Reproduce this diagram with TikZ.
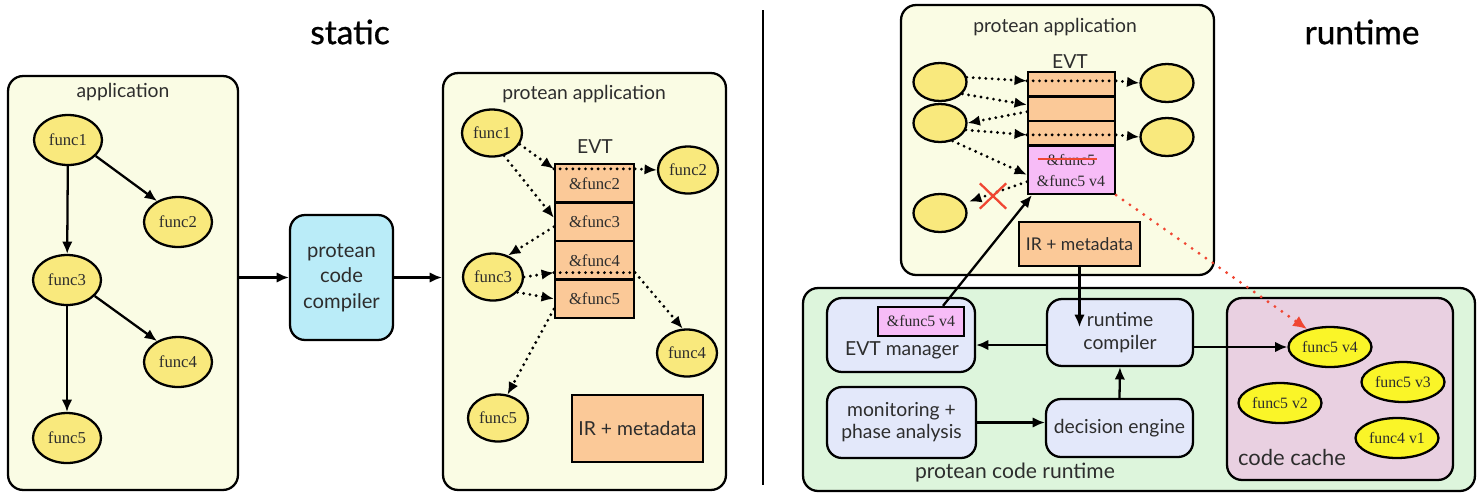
\documentclass[tikz,border=0pt]{standalone}
\usepackage{fontspec}
\setmainfont{Liberation Serif}
\newfontfamily\gs{Lato}
\newfontfamily\gst[FakeBold=0.9]{Lato}
\usetikzlibrary{arrows.meta,calc,shapes.geometric,shapes.misc}
\definecolor{appbg}{RGB}{250,252,228}
\definecolor{fnyel}{RGB}{249,233,125}
\definecolor{brightyel}{RGB}{250,245,40}
\definecolor{peach}{RGB}{251,201,152}
\definecolor{pinkrow}{RGB}{247,188,247}
\definecolor{cyanbg}{RGB}{186,236,248}
\definecolor{greenbg}{RGB}{221,245,220}
\definecolor{lavbg}{RGB}{227,232,250}
\definecolor{mauvebg}{RGB}{233,208,225}
\definecolor{xred}{RGB}{240,70,50}
\definecolor{txt}{RGB}{45,45,45}
\begin{document}
\begin{tikzpicture}[x=0.02cm,y=-0.02cm,
  box/.style={draw=black, line width=1.3pt, rounded corners=0.3cm, inner sep=0pt},
  sq/.style={draw=black, line width=1.3pt, inner sep=0pt},
  fn/.style={ellipse, draw=black, line width=1.3pt, fill=fnyel, inner sep=0pt, text=txt, font=\fontsize{9.5}{10}\selectfont},
  lab/.style={inner sep=0pt, text=txt, font=\gs\fontsize{11}{13}\selectfont},
  bigtitle/.style={inner sep=0pt, text=black, font=\gst\fontsize{19}{22}\selectfont},
  sertxt/.style={inner sep=0pt, text=txt, font=\fontsize{9}{10}\selectfont},
  arr/.style={line width=1.3pt, -{Latex[length=7pt,width=6pt]}},
  dot/.style={line width=1.8pt, line cap=round, dash pattern=on 0pt off 3.6pt, -{Latex[length=7pt,width=6pt]}},
  dotline/.style={line width=1.8pt, line cap=round, dash pattern=on 0pt off 3.6pt},
  reddot/.style={xred, line width=1.8pt, line cap=round, dash pattern=on 0pt off 4.8pt, -{Latex[length=8pt,width=7pt]}}
]
\useasboundingbox (0,0) rectangle (1482,495);

% titles and divider
\node[bigtitle] (tst) at (350,32) {static};
\node[bigtitle] (trt) at (1362,32) {runtime};
\coordinate (dv1) at (763,10);
\coordinate (dv2) at (763,485);
\draw[line width=1.4pt] (dv1) -- (dv2);

% ---------- static: application ----------
\node[box, fill=appbg, minimum width=4.6cm, minimum height=8.28cm] (app) at (123,283) {};
\node[lab] (appl) at (123,92) {application};
\node[fn, minimum width=1.36cm, minimum height=1cm] (sf1) at (68,140) {func1};
\node[fn, minimum width=1.36cm, minimum height=1cm] (sf2) at (178,222) {func2};
\node[fn, minimum width=1.36cm, minimum height=1cm] (sf3) at (67,280) {func3};
\node[fn, minimum width=1.36cm, minimum height=1cm] (sf4) at (178,362) {func4};
\node[fn, minimum width=1.36cm, minimum height=1cm] (sf5) at (67,438) {func5};
\draw[arr] (sf1) -- (sf3);
\draw[arr] (sf1.-30) -- (sf2.135);
\draw[arr] (sf3.-30) -- (sf4.135);
\draw[arr] (sf3) -- (sf5);

% compiler
\node[box, fill=cyanbg, minimum width=2.06cm, minimum height=2.5cm, align=center, text=txt,
      font=\gs\fontsize{11.5}{14.5}\selectfont] (comp) at (341.5,277.5) {protean\\code\\compiler};
\node[box, fill=appbg, minimum width=5.66cm, minimum height=8.34cm] (pa1) at (584.5,281.5) {};
\draw[arr] (app.east |- comp.west) -- (comp.west);
\draw[arr] (comp.east) -- (pa1.west |- comp.east);

% ---------- static: protean application ----------
\node[lab] (pa1l) at (584,94) {protean application};
\node[lab] (evt1) at (595,147) {EVT};
\node[fn, minimum width=1.2cm, minimum height=0.94cm] (lf1) at (492,133) {func1};
\node[fn, minimum width=1.2cm, minimum height=0.94cm] (lf2) at (688,170) {func2};
\node[fn, minimum width=1.2cm, minimum height=0.94cm] (lf3) at (493,277) {func3};
\node[fn, minimum width=1.2cm, minimum height=0.94cm] (lf4) at (687,353) {func4};
\node[fn, minimum width=1.2cm, minimum height=0.94cm] (lf5) at (498,418) {func5};
\node[sq, fill=peach, minimum width=1.58cm, minimum height=0.77cm, text=txt, font=\fontsize{9.5}{10}\selectfont] (r1) at (594.5,183.25) {\raisebox{-2pt}{\&func2}};
\node[sq, fill=peach, minimum width=1.58cm, minimum height=0.77cm, text=txt, font=\fontsize{9.5}{10}\selectfont] (r2) at (594.5,221.75) {\&func3};
\node[sq, fill=peach, minimum width=1.58cm, minimum height=0.77cm, text=txt, font=\fontsize{9.5}{10}\selectfont] (r3) at (594.5,260.25) {\&func4};
\node[sq, fill=peach, minimum width=1.58cm, minimum height=0.77cm, text=txt, font=\fontsize{9.5}{10}\selectfont] (r4) at (594.5,298.75) {\&func5};
\node[sq, fill=peach, minimum width=2.62cm, minimum height=1.34cm, text=txt, font=\gs\fontsize{11}{13}\selectfont] (ir1) at (637.5,428.5) {IR + metadata};

\coordinate (la1) at ($(r1.north west)+(0,6)$);
\coordinate (lb1) at ($(r1.north east)+(0,6)$);
\coordinate (la3) at ($(r3.south west)+(0,-8)$);
\coordinate (lb3) at ($(r3.south east)+(0,-8)$);
\draw[dot] (lf1.-22) -- (la1);
\draw[dotline] (la1) -- (lb1);
\draw[dot] (lb1) -- (lf2.west);
\draw[dot] (lf1.-62) -- ($(r2.west)+(0,-4)$);
\draw[dot] ($(r2.west)+(0,5)$) -- (lf3.55);
\draw[dot] (lf3.east) -- (la3);
\draw[dotline] (la3) -- (lb3);
\draw[dot] (lb3) -- (lf4.100);
\draw[dot] (lf3.-32) -- (r4.west);
\draw[dot] ($(r4.south west)+(0,-10)$) -- (lf5.68);

% ---------- runtime: protean application ----------
\node[box, fill=appbg, minimum width=6.26cm, minimum height=5.4cm] (pa2) at (1057.5,140) {};
\node[lab] (pa2l) at (1055,27) {protean application};
\node[lab] (evt2) at (1070,62) {EVT};
\node[sq, fill=peach, minimum width=1.74cm, minimum height=0.49cm] (R1) at (1071.5,84.25) {};
\node[sq, fill=peach, minimum width=1.74cm, minimum height=0.49cm] (R2) at (1071.5,108.75) {};
\node[sq, fill=peach, minimum width=1.74cm, minimum height=0.49cm] (R3) at (1071.5,133.25) {};
\node[sq, fill=pinkrow, minimum width=1.74cm, minimum height=0.97cm] (R4) at (1071.5,169.75) {};
\node[sertxt] (s5old) at (1071,160) {\&func5};
\node[sertxt] (s5new) at (1071,181) {\&func5 v4};
\draw[xred, line width=1.2pt] ($(s5old.west)+(-9,-1)$) -- ($(s5old.east)+(1,-1)$);

\node[fn, minimum width=1.06cm, minimum height=0.76cm] (E1) at (940,82) {};
\node[fn, minimum width=1.06cm, minimum height=0.76cm] (E2) at (940,123) {};
\node[fn, minimum width=1.06cm, minimum height=0.76cm] (E3) at (940,213) {};
\node[fn, minimum width=1.06cm, minimum height=0.76cm] (E4) at (1167,83) {};
\node[fn, minimum width=1.06cm, minimum height=0.76cm] (E5) at (1167,137) {};
\node[sq, fill=peach, minimum width=2.42cm, minimum height=0.88cm, text=txt, font=\gs\fontsize{10}{12}\selectfont] (ir2) at (1079.5,244) {IR + metadata};

\coordinate (ra1) at ($(R1.north west)+(0,10)$);
\coordinate (rb1) at ($(R1.north east)+(0,10)$);
\coordinate (ra3) at ($(R3.north west)+(0,15)$);
\coordinate (rb3) at ($(R3.north east)+(0,15)$);
\draw[dot] (E1.10) -- (ra1);
\draw[dotline] (ra1) -- (rb1);
\draw[dot] (rb1) -- (E4.west);
\draw[dot] (E1.-28) -- ($(R2.west)+(0,-4)$);
\draw[dot] ($(R2.west)+(0,3)$) -- (E2.east);
\draw[dot] (E2.-15) -- (ra3);
\draw[dotline] (ra3) -- (rb3);
\draw[dot] (rb3) -- (E5.west);
\draw[dot] (E2.-55) -- ($(R4.west)+(0,5)$);
\draw[dot, shorten >=3pt] ($(R4.west)+(0,12)$) -- (E3.22);
\node[cross out, draw=xred, line width=1.3pt, minimum width=0.48cm, minimum height=0.46cm, inner sep=0pt] (rx) at (993,196) {};

% ---------- runtime: protean code runtime ----------
\node[box, fill=greenbg, minimum width=13.44cm, minimum height=4.06cm] (grn) at (1139,389.5) {};
\node[lab, font=\gs\fontsize{12}{14}\selectfont] (grnl) at (1015,473) {protean code runtime};
\node[box, fill=lavbg, minimum width=2.96cm, minimum height=1.48cm] (em) at (901,335) {};
\node[lab] (emt) at (902,350) {EVT manager};
\node[sq, fill=pinkrow, minimum width=1.72cm, minimum height=0.58cm, text=txt, font=\fontsize{9}{10}\selectfont] (pk) at (921,321.5) {\&func5 v4};
\node[box, fill=lavbg, minimum width=2.92cm, minimum height=1.34cm, align=center, text=txt, font=\gs\fontsize{11}{13.5}\selectfont] (rc) at (1120,332.5) {runtime\\compiler};
\node[box, fill=lavbg, minimum width=2.98cm, minimum height=1.42cm, align=center, text=txt, font=\gs\fontsize{11}{12.5}\selectfont] (mon) at (901.5,422.5) {monitoring +\\phase analysis};
\node[box, fill=lavbg, minimum width=2.94cm, minimum height=1.16cm, text=txt, font=\gs\fontsize{11}{13}\selectfont] (dec) at (1119.5,428) {decision engine};
\node[box, fill=mauvebg, minimum width=4.52cm, minimum height=3.64cm] (cc) at (1340,389) {};
\node[lab, font=\gs\fontsize{12.5}{14}\selectfont] (ccl) at (1292,457) {code cache};
\node[fn, fill=brightyel, minimum width=1.66cm, minimum height=0.8cm, font=\fontsize{9}{10}\selectfont] (c4) at (1330,347) {func5 v4};
\node[fn, fill=brightyel, minimum width=1.66cm, minimum height=0.8cm, font=\fontsize{9}{10}\selectfont] (c3) at (1403,382) {func5 v3};
\node[fn, fill=brightyel, minimum width=1.66cm, minimum height=0.8cm, font=\fontsize{9}{10}\selectfont] (c2) at (1280,403) {func5 v2};
\node[fn, fill=brightyel, minimum width=1.66cm, minimum height=0.8cm, font=\fontsize{9}{10}\selectfont] (c1) at (1397,438) {func4 v1};

\coordinate (ym) at (0,345);
\coordinate (rct) at (1079.5,327);
\draw[arr] (rc.west |- ym) -- (em.east |- ym);
\draw[arr] (mon.east) -- (dec.west |- mon.east);
\draw[arr] (dec.north) -- (rc.south);
\draw[arr] (rc.east |- c4.west) -- (c4.west);
\draw[arr] (ir2.south) -- (rct);
\draw[arr] ($(pk.north)+(22,0)$) -- ($(R4.south west)+(5,0)$);
\draw[reddot] (R4.south east) -- (c4.142);
\end{tikzpicture}
\end{document}
